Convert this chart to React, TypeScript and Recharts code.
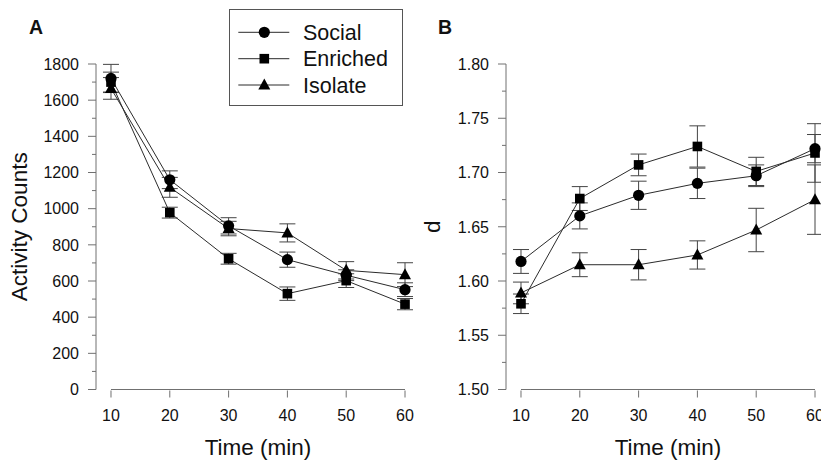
import React from 'react';
import { LineChart, Line, XAxis, YAxis, ErrorBar, ReferenceLine, Legend } from 'recharts';

// ---------- data ----------
const times = [10, 20, 30, 40, 50, 60];

const seriesNames = ['Social', 'Enriched', 'Isolate'];

// Panel A: Activity Counts
const socialCounts = [1720, 1160, 905, 718, 632, 552];
const socialCountsErr = [78, 49, 45, 42, 30, 38];
const enrichedCounts = [1700, 978, 723, 530, 602, 472];
const enrichedCountsErr = [55, 30, 30, 37, 38, 31];
const isolateCounts = [1665, 1118, 890, 866, 659, 635];
const isolateCountsErr = [60, 55, 40, 50, 48, 66];

// Panel B: d
const socialD = [1.618, 1.66, 1.679, 1.69, 1.697, 1.722];
const socialDErr = [0.011, 0.012, 0.013, 0.014, 0.01, 0.013];
const enrichedD = [1.579, 1.676, 1.707, 1.724, 1.701, 1.718];
const enrichedDErr = [0.009, 0.011, 0.01, 0.019, 0.013, 0.027];
const isolateD = [1.589, 1.615, 1.615, 1.624, 1.647, 1.675];
const isolateDErr = [0.01, 0.011, 0.014, 0.013, 0.02, 0.032];

const yTicksA = [0, 100, 200, 300, 400, 500, 600, 700, 800, 900, 1000, 1100, 1200, 1300, 1400, 1500, 1600, 1700, 1800];
const yTicksB = [1.5, 1.525, 1.55, 1.575, 1.6, 1.625, 1.65, 1.675, 1.7, 1.725, 1.75, 1.775, 1.8];
const xTicks = [10, 20, 30, 40, 50, 60];

const X_MIN = 7.45;
const X_MAX = 60;

const dataA = times.map((t, i) => ({
  time: t,
  social: socialCounts[i],
  socialErr: socialCountsErr[i],
  enriched: enrichedCounts[i],
  enrichedErr: enrichedCountsErr[i],
  isolate: isolateCounts[i],
  isolateErr: isolateCountsErr[i],
}));

const dataB = times.map((t, i) => ({
  time: t,
  social: socialD[i],
  socialErr: socialDErr[i],
  enriched: enrichedD[i],
  enrichedErr: enrichedDErr[i],
  isolate: isolateD[i],
  isolateErr: isolateDErr[i],
}));

// ---------- styles ----------
const FONT = '"Liberation Sans", Arial, Helvetica, sans-serif';
const AXIS = '#707070';
const INK = '#111111';
const LINE = '#2b2b2b';
const ERR = '#444444';

type Shape = 'circle' | 'square' | 'triangle';

function Marker({ cx, cy, shape }: { cx: number; cy: number; shape: Shape }) {
  if (cx == null || cy == null) return null;
  if (shape === 'circle') return <circle cx={cx} cy={cy} r={5.6} fill="#000" />;
  if (shape === 'square') return <rect x={cx - 4.8} y={cy - 4.8} width={9.6} height={9.6} fill="#000" />;
  return (
    <polygon
      points={`${cx},${cy - 6.5} ${cx - 6},${cy + 4.5} ${cx + 6},${cy + 4.5}`}
      fill="#000"
    />
  );
}

const makeDot = (shape: Shape) => (p: any) => (
  <Marker key={`${shape}-${p.index}`} cx={p.cx} cy={p.cy} shape={shape} />
);

const makeYTick = (isMajor: (v: number) => boolean, fmt: (v: number) => string) => (props: any) => {
  const { x, y, payload } = props;
  const v = payload.value as number;
  const major = isMajor(v);
  return (
    <g>
      <line x1={x} x2={x - (major ? 8 : 4)} y1={y} y2={y} stroke={AXIS} strokeWidth={1} />
      {major && (
        <text x={x - 17} y={y} dy="0.36em" textAnchor="end" fontFamily={FONT} fontSize={16} fill={INK}>
          {fmt(v)}
        </text>
      )}
    </g>
  );
};

const XTick = (props: any) => {
  const { x, y, payload } = props;
  return (
    <g>
      <line x1={x} x2={x} y1={y + 1} y2={y + 8} stroke={AXIS} strokeWidth={1} />
      <text x={x} y={y + 31} textAnchor="middle" fontFamily={FONT} fontSize={16} fill={INK}>
        {payload.value}
      </text>
    </g>
  );
};

function LegendBox() {
  const shapes: Shape[] = ['circle', 'square', 'triangle'];
  const rows = [23.3, 49.7, 76];
  return (
    <svg width={175} height={98} style={{ display: 'block' }}>
      <rect x={0.5} y={0.5} width={173} height={96} fill="#fff" stroke="#555" strokeWidth={1} />
      {seriesNames.map((name, i) => (
        <g key={name}>
          <line x1={9.3} x2={60.3} y1={rows[i]} y2={rows[i]} stroke={LINE} strokeWidth={1} />
          <Marker cx={35.3} cy={rows[i]} shape={shapes[i]} />
          <text x={74} y={rows[i] + 7.6} fontFamily={FONT} fontSize={21.5} fill={INK}>
            {name}
          </text>
        </g>
      ))}
    </svg>
  );
}

type PanelProps = {
  data: any[];
  yDomain: [number, number];
  yTicks: number[];
  isMajor: (v: number) => boolean;
  fmt: (v: number) => string;
  yTitle: string;
  titleX: number;
  letter: string;
  letterX: number;
  width: number;
  marginRight: number;
  withLegend?: boolean;
};

function Panel(p: PanelProps) {
  const yLabel = (lp: any) => {
    const vb = lp.viewBox || {};
    const cx = (vb.x ?? 0) + p.titleX;
    const cy = (vb.y ?? 0) + (vb.height ?? 0) / 2;
    return (
      <g>
        <text
          x={cx}
          y={cy}
          textAnchor="middle"
          transform={`rotate(-90, ${cx}, ${cy})`}
          fontFamily={FONT}
          fontSize={22.5}
          fill={INK}
        >
          {p.yTitle}
        </text>
        <text x={(vb.x ?? 0) + p.letterX} y={33.5} fontFamily={FONT} fontWeight="bold" fontSize={19.5} fill={INK}>
          {p.letter}
        </text>
      </g>
    );
  };
  const xLabel = (lp: any) => {
    const vb = lp.viewBox || {};
    const cx = (vb.x ?? 0) + ((35 - X_MIN) / (X_MAX - X_MIN)) * (vb.width ?? 0);
    return (
      <text x={cx} y={(vb.y ?? 0) + 65.5} textAnchor="middle" fontFamily={FONT} fontSize={22.5} fill={INK}>
        Time (min)
      </text>
    );
  };
  return (
    <LineChart
      width={p.width}
      height={462}
      data={p.data}
      margin={{ top: 64, right: p.marginRight, bottom: 0, left: 0 }}
    >
      <XAxis
        type="number"
        dataKey="time"
        domain={[X_MIN, X_MAX]}
        ticks={xTicks}
        axisLine={false}
        tickLine={false}
        tickSize={0}
        tickMargin={0}
        tick={XTick}
        height={72.5}
        interval={0}
        label={xLabel}
      />
      <YAxis
        type="number"
        domain={p.yDomain}
        ticks={p.yTicks}
        width={96}
        axisLine={{ stroke: AXIS, strokeWidth: 1 }}
        tickLine={false}
        tickSize={0}
        tickMargin={0}
        tick={makeYTick(p.isMajor, p.fmt)}
        interval={0}
        allowDataOverflow
        label={yLabel}
      />
      <ReferenceLine
        segment={[
          { x: xTicks[0], y: p.yDomain[0] },
          { x: xTicks[xTicks.length - 1], y: p.yDomain[0] },
        ]}
        stroke={AXIS}
        strokeWidth={1}
        ifOverflow="visible"
      />
      <Line
        dataKey="social"
        stroke={LINE}
        strokeWidth={1}
        dot={makeDot('circle')}
        activeDot={false}
        isAnimationActive={false}
      >
        <ErrorBar dataKey="socialErr" width={8} stroke={ERR} strokeWidth={1} direction="y" />
      </Line>
      <Line
        dataKey="enriched"
        stroke={LINE}
        strokeWidth={1}
        dot={makeDot('square')}
        activeDot={false}
        isAnimationActive={false}
      >
        <ErrorBar dataKey="enrichedErr" width={8} stroke={ERR} strokeWidth={1} direction="y" />
      </Line>
      <Line
        dataKey="isolate"
        stroke={LINE}
        strokeWidth={1}
        dot={makeDot('triangle')}
        activeDot={false}
        isAnimationActive={false}
      >
        <ErrorBar dataKey="isolateErr" width={8} stroke={ERR} strokeWidth={1} direction="y" />
      </Line>
      {p.withLegend && (
        <Legend
          layout="vertical"
          align="center"
          verticalAlign="middle"
          wrapperStyle={{ left: 229, top: 9, width: 175, height: 98 }}
          content={() => <LegendBox />}
        />
      )}
    </LineChart>
  );
}

export default function App() {
  return (
    <div
      style={{
        position: 'absolute',
        left: 0,
        top: 0,
        width: 821,
        height: 462,
        overflow: 'hidden',
        background: '#fff',
      }}
    >
      <div style={{ position: 'absolute', left: 0, top: 0 }}>
        <Panel
          data={dataA}
          yDomain={[0, 1800]}
          yTicks={yTicksA}
          isMajor={(v) => v % 200 === 0}
          fmt={(v) => String(v)}
          yTitle="Activity Counts"
          titleX={27}
          letter="A"
          letterX={29}
          width={420}
          marginRight={15}
          withLegend
        />
      </div>
      <div style={{ position: 'absolute', left: 410, top: 0 }}>
        <Panel
          data={dataB}
          yDomain={[1.5, 1.8]}
          yTicks={yTicksB}
          isMajor={(v) => Math.round(v * 1000) % 50 === 0}
          fmt={(v) => v.toFixed(2)}
          yTitle="d"
          titleX={30}
          letter="B"
          letterX={28}
          width={420}
          marginRight={15}
        />
      </div>
    </div>
  );
}
